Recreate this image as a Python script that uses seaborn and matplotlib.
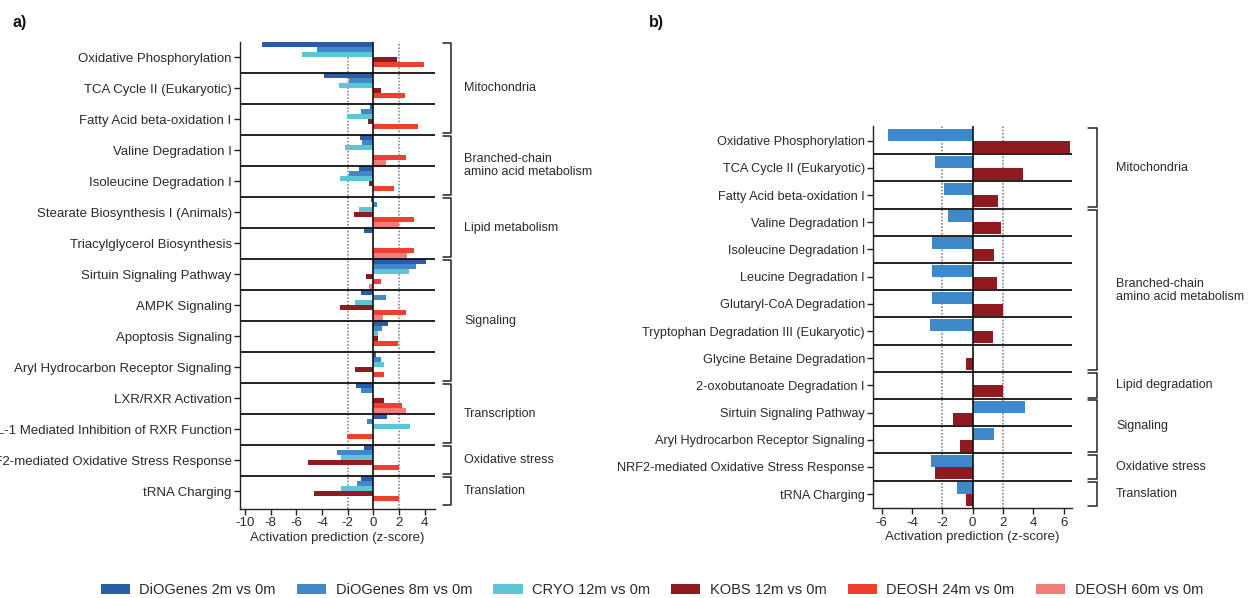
import matplotlib
matplotlib.use("Agg")
import matplotlib.pyplot as plt
import matplotlib.transforms as mtransforms
from matplotlib.patches import Patch
import seaborn as sns
import pandas as pd

# ---------------- data ----------------
series = ["DiOGenes 2m vs 0m", "DiOGenes 8m vs 0m", "CRYO 12m vs 0m",
          "KOBS 12m vs 0m", "DEOSH 24m vs 0m", "DEOSH 60m vs 0m"]
colors = ["#2b5ca8", "#3f88c9", "#5cc6d5", "#8f1a1f", "#ef3f2e", "#f27c78"]

pathways_a = ["Oxidative Phosphorylation", "TCA Cycle II (Eukaryotic)",
              "Fatty Acid beta-oxidation I", "Valine Degradation I",
              "Isoleucine Degradation I", "Stearate Biosynthesis I (Animals)",
              "Triacylglycerol Biosynthesis", "Sirtuin Signaling Pathway",
              "AMPK Signaling", "Apoptosis Signaling",
              "Aryl Hydrocarbon Receptor Signaling", "LXR/RXR Activation",
              "IL-1 Mediated Inhibition of RXR Function",
              "NRF2-mediated Oxidative Stress Response", "tRNA Charging"]
diogenes2m_a = [-8.68, -3.84, -0.26, -1.04, -1.12, -0.18, -0.73, 4.10, -0.96, 1.14, 0.21, -1.35, 1.06, -0.73, -0.96]
diogenes8m_a = [-4.39, -1.90, -0.96, -0.88, -1.90, 0.29, 0.0, 3.32, 0.99, 0.68, 0.60, -0.96, -0.49, -2.83, -1.27]
cryo12m_a = [-5.56, -2.68, -2.05, -2.21, -2.60, -1.12, 0.0, 2.78, -1.43, 0.36, 0.83, 0.0, 2.86, -2.52, -2.52]
kobs12m_a = [1.82, 0.60, -0.42, 0.0, -0.34, -1.51, 0.0, -0.57, -2.60, 0.36, -1.43, 0.83, 0.0, -5.09, -4.62]
deosh24m_a = [3.95, 2.47, 3.48, 2.55, 1.61, 3.17, 3.17, 0.60, 2.55, 1.92, 0.83, 2.23, -2.05, 2.00, 2.00]
deosh60m_a = [0.0, 0.0, 0.0, 0.99, 0.0, 2.00, 2.62, -0.34, 0.75, 0.0, 0.0, 2.55, 0.0, 0.0, 0.0]

pathways_b = ["Oxidative Phosphorylation", "TCA Cycle II (Eukaryotic)",
              "Fatty Acid beta-oxidation I", "Valine Degradation I",
              "Isoleucine Degradation I", "Leucine Degradation I",
              "Glutaryl-CoA Degradation", "Tryptophan Degradation III (Eukaryotic)",
              "Glycine Betaine Degradation", "2-oxobutanoate Degradation I",
              "Sirtuin Signaling Pathway", "Aryl Hydrocarbon Receptor Signaling",
              "NRF2-mediated Oxidative Stress Response", "tRNA Charging"]
diogenes8m_b = [-5.58, -2.48, -1.89, -1.63, -2.68, -2.68, -2.68, -2.81, 0.0, 0.0, 3.45, 1.41, -2.75, -1.03]
kobs12m_b = [6.42, 3.32, 1.67, 1.87, 1.41, 1.60, 2.00, 1.34, -0.44, 2.00, -1.30, -0.84, -2.48, -0.44]

groups_a = [("Mitochondria", 0, 2), ("Branched-chain\namino acid metabolism", 3, 4),
            ("Lipid metabolism", 5, 6), ("Signaling", 7, 10),
            ("Transcription", 11, 12), ("Oxidative stress", 13, 13),
            ("Translation", 14, 14)]
groups_b = [("Mitochondria", 0, 2), ("Branched-chain\namino acid metabolism", 3, 8),
            ("Lipid degradation", 9, 9), ("Signaling", 10, 11),
            ("Oxidative stress", 12, 12), ("Translation", 13, 13)]

# ---------------- style ----------------
sns.set_theme(style="ticks")
plt.rcParams["font.family"] = ["Liberation Sans", "DejaVu Sans"]
TXT = "#2a2a2a"

df_a = pd.DataFrame({
    "pathway": pathways_a * 6,
    "z": diogenes2m_a + diogenes8m_a + cryo12m_a + kobs12m_a + deosh24m_a + deosh60m_a,
    "series": sum([[s] * len(pathways_a) for s in series], []),
})
df_b = pd.DataFrame({
    "pathway": pathways_b * 2,
    "z": diogenes8m_b + kobs12m_b,
    "series": [series[1]] * len(pathways_b) + [series[3]] * len(pathways_b),
})

fig = plt.figure(figsize=(12.56, 5.98), dpi=100)
ax_a = fig.add_axes([0.1911, 0.1488, 0.1552, 0.7818])
ax_b = fig.add_axes([0.6953, 0.1500, 0.1582, 0.6398])

sns.barplot(data=df_a, y="pathway", x="z", hue="series", hue_order=series,
            order=pathways_a, palette=colors, orient="h", width=1.0,
            errorbar=None, legend=False, saturation=1, linewidth=0,
            ax=ax_a, zorder=2)
sns.barplot(data=df_b, y="pathway", x="z", hue="series",
            hue_order=[series[1], series[3]], order=pathways_b,
            palette=[colors[1], colors[3]], orient="h", width=0.88,
            errorbar=None, legend=False, saturation=1, linewidth=0,
            ax=ax_b, zorder=2)


def style_axis(ax, n, xlim, xticks, ylim, groups, bx, ex, lx, ysize):
    ax.set_xlim(*xlim)
    ax.set_ylim(*ylim)
    ax.set_xticks(xticks)
    ax.set_xticklabels([str(t) for t in xticks])
    ax.set_ylabel("")
    ax.set_xlabel("Activation prediction (z-score)", fontsize=9.5, color=TXT, labelpad=2)
    for sp in ["top", "right"]:
        ax.spines[sp].set_visible(False)
    for sp in ["left", "bottom"]:
        ax.spines[sp].set_color("#222222")
        ax.spines[sp].set_linewidth(1.0)
    ax.tick_params(axis="both", length=4, width=1.0, color="#222222",
                   labelsize=ysize, labelcolor=TXT, pad=2)
    ax.tick_params(axis="x", labelsize=9.5)
    for i in range(n - 1):
        ax.axhline(i + 0.5, color="#111111", lw=1.3, zorder=3)
    ax.axvline(0, color="#111111", lw=1.2, zorder=4)
    for v in (-2, 2):
        ax.axvline(v, color="#8a8a8a", lw=1.2, ls=(0, (1, 1)), zorder=1)
    trans = mtransforms.blended_transform_factory(ax.transAxes, ax.transData)
    for name, a, b in groups:
        top, bot = a - 0.5 + 0.05, b + 0.5 - 0.05
        ax.plot([ex, bx, bx, ex], [top, top, bot, bot], color="#222222",
                lw=1.1, transform=trans, clip_on=False)
        ax.text(lx, (a + b) / 2, name, transform=trans, va="center",
                ha="left", fontsize=9, color=TXT, linespacing=1.15)


style_axis(ax_a, len(pathways_a), (-10.4, 4.8), list(range(-10, 5, 2)),
           (14.58, -0.5), groups_a, 1.082, 1.041, 1.149, 9.5)
style_axis(ax_b, len(pathways_b), (-6.55, 6.55), list(range(-6, 7, 2)),
           (13.52, -0.55), groups_b, 1.124, 1.08, 1.222, 9.2)

fig.text(0.010, 0.963, "a)", fontsize=11.5, fontweight="bold", color="#111111", va="center")
fig.text(0.517, 0.963, "b)", fontsize=11.5, fontweight="bold", color="#111111", va="center")

handles = [Patch(facecolor=c, edgecolor="none") for c in colors]
fig.legend(handles, series, loc="center", bbox_to_anchor=(0.519, 0.013),
           ncol=6, frameon=False, fontsize=10.5, handlelength=2.0,
           handleheight=0.6, handletextpad=0.65, columnspacing=1.45,
           labelcolor=TXT)

fig.savefig("out.png", dpi=100)
